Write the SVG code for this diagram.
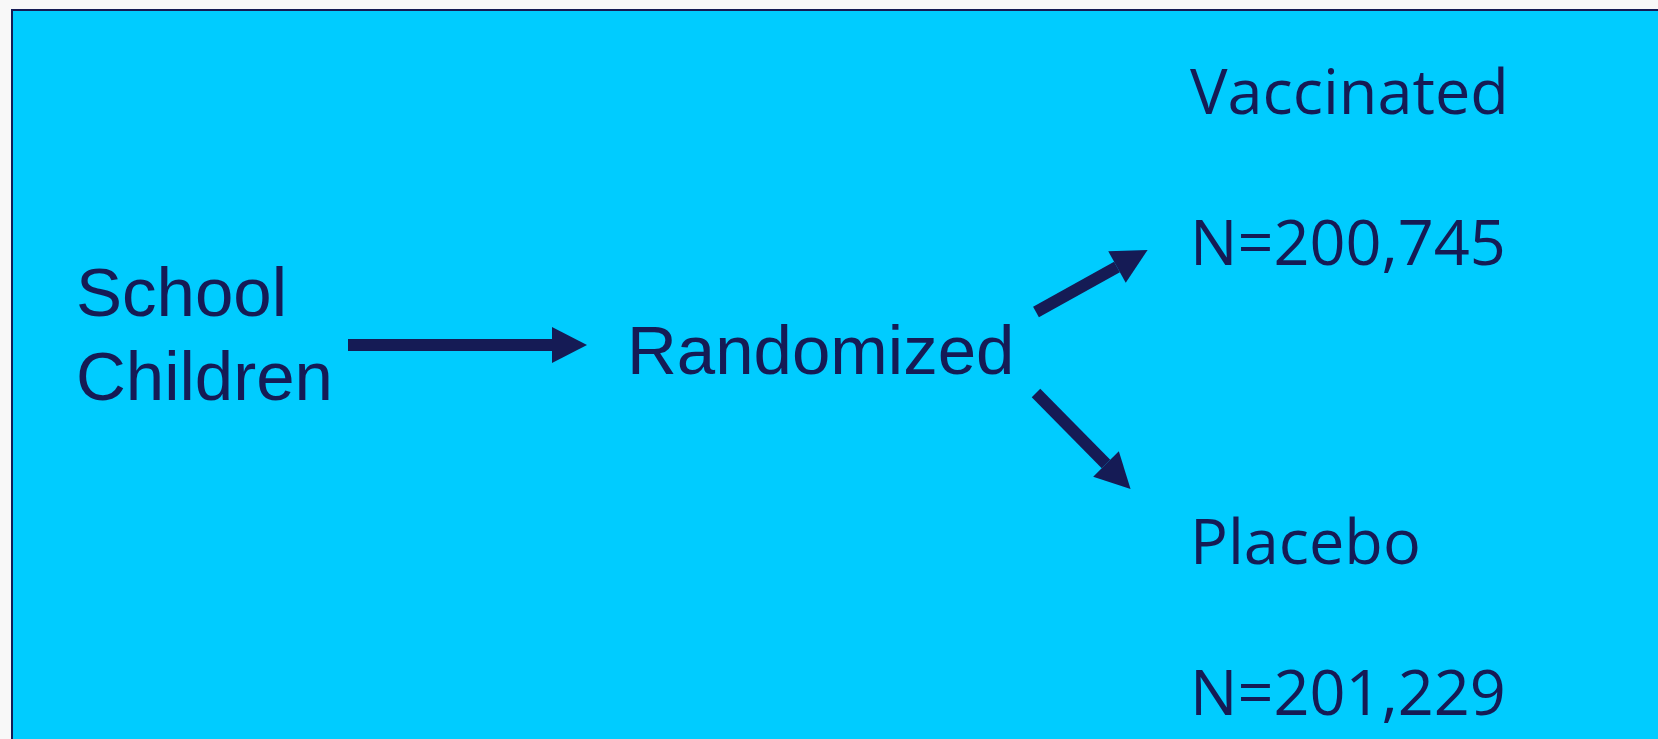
<svg xmlns="http://www.w3.org/2000/svg" width="1658" height="739" viewBox="0 0 1658 739">
<style>
.sans{font-family:"Liberation Sans",Arial,sans-serif;font-size:69px;fill:#151B55}
.hum{font-family:"Open Sans","Noto Sans",sans-serif;font-size:63px;fill:#151B55}
.conn{stroke:#151B55;stroke-width:12;fill:none;marker-end:url(#head)}
</style>
<defs>
<marker id="head" markerUnits="userSpaceOnUse" markerWidth="36" markerHeight="36" refX="0" refY="18" orient="auto" overflow="visible">
<path d="M0,0 L35,18 L0,36 Z" fill="#151B55"/>
</marker>
</defs>
<rect x="0" y="0" width="1658" height="739" fill="#F8F8F8"/>
<rect id="panel" x="12" y="10" width="1700" height="760" fill="#00CCFF" stroke="#151B55" stroke-width="2"/>
<g id="connectors">
<line class="conn" x1="348" y1="345" x2="552" y2="345"/>
<line class="conn" x1="1036" y1="312" x2="1117" y2="267"/>
<line class="conn" x1="1036" y1="393" x2="1106" y2="464"/>
</g>
<g id="node-school"><text class="sans" x="76" y="316">School</text><text class="sans" x="76" y="400">Children</text></g>
<g id="node-randomized"><text class="sans" x="627" y="374">Randomized</text></g>
<g id="node-vaccinated"><text class="hum" x="1190" y="114">Vaccinated</text><text class="hum" x="1190" y="265">N=200,745</text></g>
<g id="node-placebo"><text class="hum" x="1190" y="564">Placebo</text><text class="hum" x="1190" y="715">N=201,229</text></g>
</svg>
